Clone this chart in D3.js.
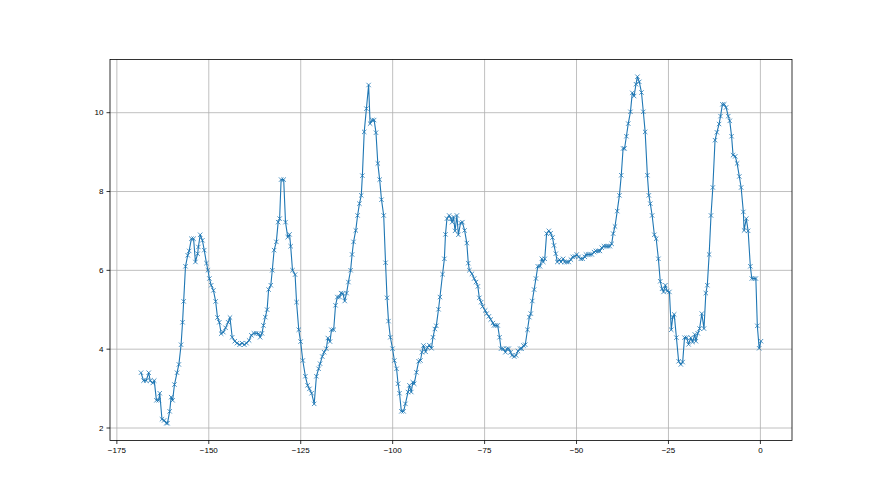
<!DOCTYPE html>
<html>
<head>
<meta charset="utf-8">
<script src="https://cdn.jsdelivr.net/npm/d3@7"></script>
<style>
  body { margin: 0; background: #fff; }
  svg { display: block; font-family: "DejaVu Sans", sans-serif; }
  .grid line { stroke: #b0b0b0; stroke-width: 0.8; }
  .grid path { display: none; }
  .axis path, .axis line { stroke: #000; stroke-width: 0.8; }
  .axis text { fill: #000; font-size: 8px; }
</style>
</head>
<body>
<div id="chart"></div>
<script>
'use strict';

// hours before now (x)
const hours = [
  -168.3, -167.6, -166.9, -166.2, -165.8, -165.1, -164.7, -164.1, -163.5, -163.2,
  -162.6, -162.0, -161.4, -161.1, -160.5, -160.1, -159.7, -159.2, -158.5, -158.0,
  -157.4, -157.0, -156.7, -156.2, -155.6, -155.2, -154.6, -154.0, -153.5, -152.9,
  -152.7, -152.2, -151.6, -151.1, -150.5, -150.1, -149.7, -149.2, -148.6, -148.0,
  -147.5, -147.0, -146.5, -145.9, -145.3, -144.6, -144.1, -143.5, -142.8, -142.2,
  -141.5, -140.8, -140.2, -139.6, -138.9, -138.3, -137.6, -137.0, -136.3, -135.9,
  -135.4, -135.0, -134.5, -134.0, -133.6, -133.0, -132.6, -132.1, -131.5, -131.0,
  -130.6, -130.2, -129.5, -129.0, -128.4, -127.9, -127.6, -127.1, -126.4, -126.0,
  -125.4, -124.9, -124.3, -123.6, -123.0, -122.5, -121.9, -121.2, -120.6, -120.0,
  -119.6, -119.0, -118.5, -117.9, -117.5, -116.9, -116.5, -115.9, -115.4, -114.9,
  -114.3, -113.9, -113.4, -112.9, -112.4, -111.9, -111.3, -110.9, -110.5, -109.9,
  -109.4, -108.9, -108.4, -108.1, -107.6, -107.0, -106.4, -106.0, -105.4, -104.9,
  -104.4, -103.9, -103.4, -102.9, -102.3, -101.8, -101.4, -101.0, -100.5, -99.9,
  -99.4, -98.8, -98.4, -98.0, -97.5, -96.9, -96.4, -95.7, -95.3, -94.8,
  -94.4, -94.0, -93.4, -92.8, -92.3, -91.9, -91.5, -90.9, -90.4, -89.9,
  -89.3, -88.9, -88.4, -88.0, -87.4, -87.0, -86.3, -85.8, -85.5, -85.1,
  -84.5, -84.0, -83.7, -83.3, -82.9, -82.4, -82.0, -81.4, -80.9, -80.3,
  -79.7, -79.3, -79.0, -78.3, -77.7, -77.2, -76.7, -76.3, -75.8, -75.4,
  -74.7, -74.3, -73.7, -73.2, -72.6, -72.3, -71.8, -71.3, -70.8, -70.4,
  -69.8, -69.2, -68.8, -68.3, -67.8, -67.4, -66.8, -66.3, -65.8, -65.2,
  -64.8, -64.3, -63.8, -63.2, -62.7, -62.3, -61.9, -61.4, -60.9, -60.4,
  -59.8, -59.3, -58.9, -58.5, -58.0, -57.4, -56.9, -56.4, -56.0, -55.5,
  -55.1, -54.5, -54.1, -53.5, -53.1, -52.5, -52.0, -51.4, -50.9, -50.3,
  -49.8, -49.3, -48.7, -48.2, -47.6, -47.3, -46.7, -46.2, -45.7, -45.1,
  -44.6, -44.0, -43.5, -43.0, -42.4, -41.8, -41.3, -40.8, -40.3, -39.9,
  -39.4, -38.8, -38.2, -37.7, -37.2, -36.8, -36.3, -35.8, -35.2, -34.7,
  -34.2, -33.7, -33.3, -32.8, -32.2, -31.7, -31.2, -30.6, -30.2, -29.8,
  -29.3, -28.7, -28.2, -27.6, -27.1, -26.6, -26.2, -25.7, -25.2, -24.6,
  -24.1, -23.7, -23.3, -22.7, -22.1, -21.5, -21.0, -20.5, -19.9, -19.4,
  -18.8, -18.3, -17.7, -17.4, -16.9, -16.4, -15.8, -15.2, -14.7, -14.3,
  -13.8, -13.3, -12.8, -12.2, -11.7, -11.1, -10.7, -10.2, -9.7, -9.2,
  -8.6, -8.2, -7.7, -7.3, -6.7, -6.2, -5.6, -5.1, -4.5, -4.3,
  -3.7, -3.2, -2.6, -2.2, -1.6, -1.1, -0.7, -0.2, 0.3
];

// measured values (y)
const values = [
  3.39, 3.19, 3.19, 3.39, 3.19, 3.13, 3.19, 2.69, 2.69, 2.87,
  2.21, 2.18, 2.11, 2.11, 2.41, 2.77, 2.69, 3.09, 3.39, 3.60,
  4.10, 4.67, 5.20, 6.09, 6.37, 6.48, 6.79, 6.79, 6.20, 6.41,
  6.58, 6.89, 6.75, 6.50, 6.17, 5.99, 5.78, 5.61, 5.48, 5.20,
  4.79, 4.67, 4.38, 4.42, 4.53, 4.67, 4.79, 4.29, 4.19, 4.14,
  4.10, 4.14, 4.10, 4.14, 4.21, 4.34, 4.39, 4.39, 4.38, 4.29,
  4.39, 4.59, 4.80, 4.99, 5.50, 5.61, 5.99, 6.50, 6.71, 7.21,
  7.30, 8.29, 8.29, 7.21, 6.83, 6.90, 6.60, 5.99, 5.88, 5.18,
  4.48, 4.18, 3.70, 3.30, 3.07, 2.98, 2.87, 2.60, 3.30, 3.49,
  3.62, 3.80, 3.91, 4.00, 4.27, 4.18, 4.48, 4.48, 5.10, 5.31,
  5.31, 5.41, 5.40, 5.21, 5.41, 5.69, 5.99, 6.39, 6.71, 7.00,
  7.38, 7.68, 7.89, 8.39, 9.50, 10.09, 10.69, 9.71, 9.80, 9.80,
  9.48, 8.70, 8.29, 7.78, 7.38, 6.18, 5.29, 4.70, 4.29, 4.00,
  3.70, 3.49, 3.11, 2.87, 2.41, 2.41, 2.60, 2.90, 3.07, 2.90,
  3.15, 3.11, 3.40, 3.68, 3.70, 3.91, 4.08, 3.92, 4.03, 4.09,
  4.01, 4.29, 4.50, 4.58, 5.00, 5.31, 5.89, 6.28, 6.90, 7.30,
  7.38, 7.30, 7.21, 7.34, 6.99, 7.38, 6.89, 7.19, 7.21, 7.00,
  6.68, 6.17, 5.99, 5.90, 5.78, 5.69, 5.58, 5.29, 5.18, 5.07,
  4.97, 4.89, 4.82, 4.74, 4.65, 4.59, 4.59, 4.59, 4.29, 4.00,
  4.00, 3.91, 4.00, 4.00, 3.91, 3.83, 3.80, 3.83, 3.94, 4.00,
  4.00, 4.08, 4.10, 4.48, 4.80, 4.89, 5.21, 5.50, 5.78, 6.09,
  6.09, 6.28, 6.20, 6.28, 6.92, 6.99, 6.93, 6.82, 6.62, 6.41,
  6.20, 6.26, 6.20, 6.28, 6.20, 6.20, 6.20, 6.26, 6.33, 6.34,
  6.39, 6.33, 6.28, 6.28, 6.33, 6.39, 6.39, 6.39, 6.39, 6.45,
  6.48, 6.48, 6.48, 6.56, 6.60, 6.60, 6.60, 6.60, 6.66, 6.92,
  7.10, 7.49, 7.89, 8.40, 9.08, 9.08, 9.39, 9.71, 10.01, 10.49,
  10.41, 10.71, 10.90, 10.77, 10.50, 10.01, 9.50, 8.40, 7.89, 7.68,
  7.38, 6.89, 6.79, 6.28, 5.71, 5.52, 5.44, 5.61, 5.46, 5.44,
  4.48, 4.80, 4.87, 4.28, 3.68, 3.60, 3.66, 4.28, 4.28, 4.11,
  4.28, 4.17, 4.36, 4.19, 4.39, 4.51, 4.89, 4.51, 5.41, 5.61,
  6.39, 7.38, 8.09, 9.29, 9.49, 9.70, 9.90, 10.20, 10.20, 10.12,
  9.90, 9.78, 9.39, 8.91, 8.88, 8.70, 8.37, 8.09, 7.47, 7.00,
  7.30, 6.99, 6.09, 5.78, 5.78, 5.78, 4.58, 4.01, 4.19
];

const xTicks = [-175, -150, -125, -100, -75, -50, -25, 0];
const yTicks = [2, 4, 6, 8, 10];

const data = hours.map((h, i) => ({ h: h, v: values[i] }));

const W = 880, H = 495;
const margin = { top: 59.4, right: 88, bottom: 54.5, left: 110 };
const width = W - margin.left - margin.right;
const height = H - margin.top - margin.bottom;

// matplotlib style 5% padding around the data
const xPad = (d3.max(hours) - d3.min(hours)) * 0.05;
const yPad = (d3.max(values) - d3.min(values)) * 0.05;

const x = d3.scaleLinear()
  .domain([d3.min(hours) - xPad, d3.max(hours) + xPad])
  .range([0, width]);
const y = d3.scaleLinear()
  .domain([d3.min(values) - yPad, d3.max(values) + yPad])
  .range([height, 0]);

const minus = d => (d < 0 ? '\u2212' + Math.abs(d) : '' + d);

const svg = d3.select('#chart').append('svg')
  .attr('width', W)
  .attr('height', H);

const g = svg.append('g')
  .attr('transform', 'translate(' + margin.left + ',' + margin.top + ')');

// grid first so the line sits on top
g.append('g')
  .attr('class', 'grid')
  .attr('transform', 'translate(0,' + height + ')')
  .call(d3.axisBottom(x).tickValues(xTicks).tickSize(-height).tickFormat(''));
g.append('g')
  .attr('class', 'grid')
  .call(d3.axisLeft(y).tickValues(yTicks).tickSize(-width).tickFormat(''));

// series line
g.append('path')
  .datum(data)
  .attr('fill', 'none')
  .attr('stroke', '#1f77b4')
  .attr('stroke-width', 1.1)
  .attr('stroke-linejoin', 'round')
  .attr('d', d3.line().x(d => x(d.h)).y(d => y(d.v)));

// 'x' markers
g.selectAll('.marker')
  .data(data)
  .enter().append('path')
  .attr('class', 'marker')
  .attr('transform', d => 'translate(' + x(d.h) + ',' + y(d.v) + ')')
  .attr('d', 'M-2.2,-2.2L2.2,2.2M-2.2,2.2L2.2,-2.2')
  .attr('stroke', '#1f77b4')
  .attr('stroke-width', 0.8)
  .attr('fill', 'none');

// axes
g.append('g')
  .attr('class', 'axis')
  .attr('transform', 'translate(0,' + height + ')')
  .call(d3.axisBottom(x).tickValues(xTicks).tickSize(3.5).tickPadding(3).tickFormat(minus))
  .call(a => a.select('.domain').remove());
g.append('g')
  .attr('class', 'axis')
  .call(d3.axisLeft(y).tickValues(yTicks).tickSize(3.5).tickPadding(3).tickFormat(minus))
  .call(a => a.select('.domain').remove());

// frame
g.append('rect')
  .attr('width', width)
  .attr('height', height)
  .attr('fill', 'none')
  .attr('stroke', '#000')
  .attr('stroke-width', 0.8);
</script>
</body>
</html>
